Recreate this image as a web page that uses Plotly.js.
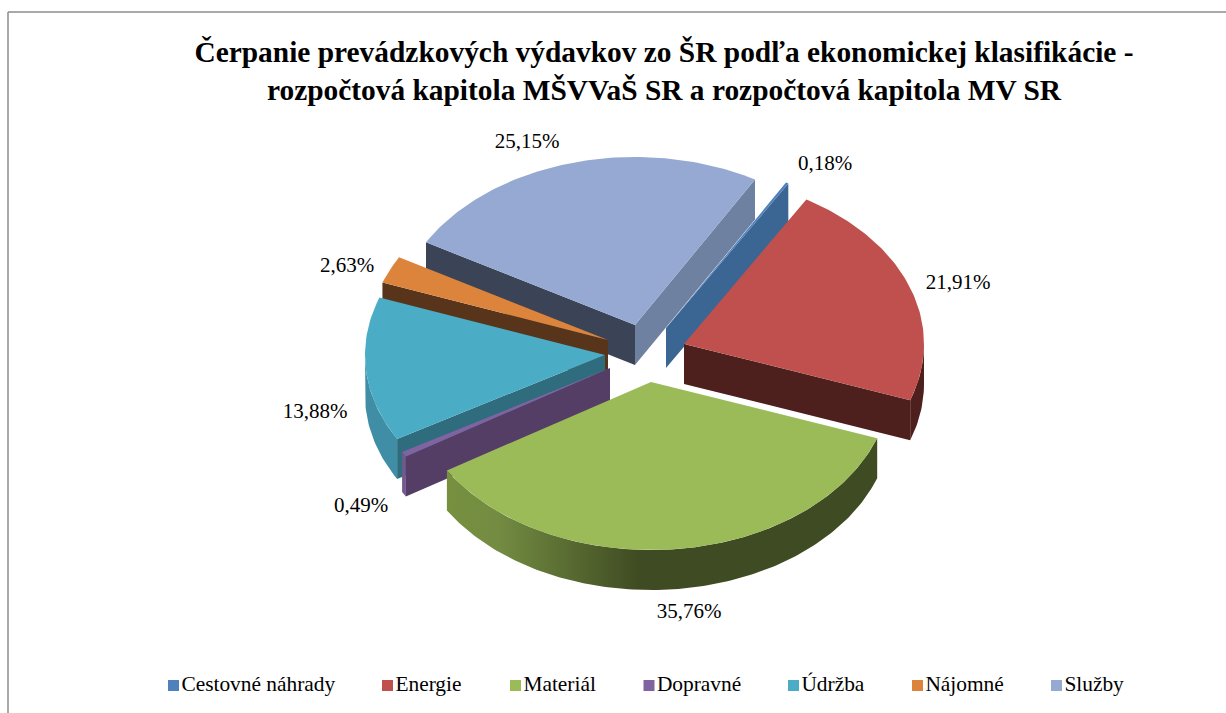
<!DOCTYPE html>
<html>
<head>
<meta charset="utf-8">
<script src="https://cdn.plot.ly/plotly-3.0.1.min.js"></script>
<style>html,body{margin:0;padding:0;background:#fff}#chart{width:1226px;height:713px}</style>
</head>
<body>
<div id="chart"></div>
<script>
// Data
const categories = ["Cestovné náhrady","Energie","Materiál","Dopravné","Údržba","Nájomné","Služby"];
const shares = [0.18,21.91,35.76,0.49,13.88,2.63,25.15];

// Colours
const topColors   = ["#4f81bd","#c0504d","#9bbb59","#8064a2","#4bacc6","#dc843c","#95a9d2"];
const faceColors  = ["#3b6693","#4d1f1d","#3f4b22","#553e66","#2f6c7d","#57341a","#3b4356"];
const endColors   = ["#3b6693","#4d1f1d","#3f4b22","#553e66","#2f6c7d","#57341a","#6f81a0"];
const rimColors   = ["#3b6693","#4d1f1d","#3f4b22","#71588f","#3f8ea5","#57341a","#6f81a0"];

// Layout of the exploded tilted pie (pixel-based axes)
const startAngle = 30, radiusX = 240, radiusY = 168, depth = 40;
const apexX = [666,684,651,610,605,608,635];
const apexY = [328,344,382,368,355,340,325];
const labelX = [825,958,689,361,315,347,527];
const labelY = [165,284,613,507,413,267,143];
const legendMarkX = [173.5,387.5,515.5,649,793.5,917.5,1056.5];
const legendY = 685.5;
const paintOrder = [6,0,1,5,4,3,2];

const rad = d => d*Math.PI/180;
const total = shares.reduce((a,b)=>a+b,0);
const edges = [startAngle];
shares.forEach(v => edges.push(edges[edges.length-1] + v/total*360));
const pt = (i,t,dz=0) => [apexX[i]+radiusX*Math.sin(rad(t)), apexY[i]-radiusY*Math.cos(rad(t))+dz];

function poly(pts,color,name,extra){
  return Object.assign({type:'scatter',mode:'lines',x:pts.map(p=>p[0]),y:pts.map(p=>p[1]),
    fill:'toself',fillcolor:color,line:{width:0,color:color},hoverinfo:'skip',showlegend:false,name:name},extra||{});
}
function arc(i,a,b,dz){
  const n=Math.max(2,Math.ceil(Math.abs(b-a)));const out=[];
  for(let k=0;k<=n;k++) out.push(pt(i,a+(b-a)*k/n,dz));
  return out;
}
const traces=[];
paintOrder.forEach(i=>{
  const a=edges[i], b=edges[i+1], apex=[apexX[i],apexY[i]], apexLow=[apexX[i],apexY[i]+depth];
  // outer rim wall: only the part of the arc on the viewer's side
  for(const off of [0,360]){
    const s=Math.max(a,90+off), e=Math.min(b,270+off);
    if(e>s){
      const rim=arc(i,s,e,0).concat(arc(i,e,s,depth));
      const extra = i===2 ? {fillgradient:{type:'horizontal',start:446,stop:875,
        colorscale:[[0,'#76903f'],[0.12,'#738c42'],[0.45,'#3f4b22'],[1,'#3f4b22']]}} : {};
      traces.push(poly(rim,rimColors[i],categories[i],extra));
    }
  }
  // radial cut faces that face the viewer
  if(Math.sin(rad(a))<0) traces.push(poly([apex,pt(i,a),pt(i,a,depth),apexLow],faceColors[i],categories[i]));
  if(Math.sin(rad(b))>0) traces.push(poly([apex,pt(i,b),pt(i,b,depth),apexLow],endColors[i],categories[i]));
  // top surface
  traces.push(poly([apex].concat(arc(i,a,b,0)),topColors[i],categories[i]));
});
// percentage labels
traces.push({type:'scatter',mode:'text',x:labelX,y:labelY,
  text:shares.map(v=>v.toFixed(2).replace('.',',')+'%'),textposition:'middle center',
  textfont:{family:'"Liberation Serif",serif',size:21,color:'#000'},hoverinfo:'skip',showlegend:false});
// legend row
categories.forEach((c,i)=>{
  traces.push({type:'scatter',mode:'markers+text',x:[legendMarkX[i]],y:[legendY],name:c,text:[c],
    textposition:'middle right',marker:{symbol:'square',size:11,color:topColors[i]},
    textfont:{family:'"Liberation Serif",serif',size:21.4,color:'#000'},hoverinfo:'skip',showlegend:false});
});

const layout={
  width:1226,height:713,margin:{l:0,r:0,t:0,b:0,pad:0},
  paper_bgcolor:'#fff',plot_bgcolor:'#fff',showlegend:false,
  title:{text:'Čerpanie prevádzkových výdavkov zo ŠR podľa ekonomickej klasifikácie -<br>rozpočtová kapitola MŠVVaŠ SR a rozpočtová kapitola MV SR',
    x:664/1226,xanchor:'center',y:1-62/713,yanchor:'top',
    font:{family:'"Liberation Serif",serif',size:29.4,color:'#000',weight:'bold'}},
  xaxis:{range:[0,1226],visible:false,fixedrange:true},
  yaxis:{range:[713,0],visible:false,fixedrange:true},
  shapes:[
    {type:'line',xref:'paper',yref:'paper',x0:8/1226,x1:1,y0:1-12/713,y1:1-12/713,line:{color:'#8c8c8c',width:1.5}},
    {type:'line',xref:'paper',yref:'paper',x0:8/1226,x1:8/1226,y0:1-12/713,y1:0,line:{color:'#8c8c8c',width:1.5}}
  ]
};
Plotly.newPlot('chart',traces,layout,{displayModeBar:false,staticPlot:true});
</script>
</body>
</html>
